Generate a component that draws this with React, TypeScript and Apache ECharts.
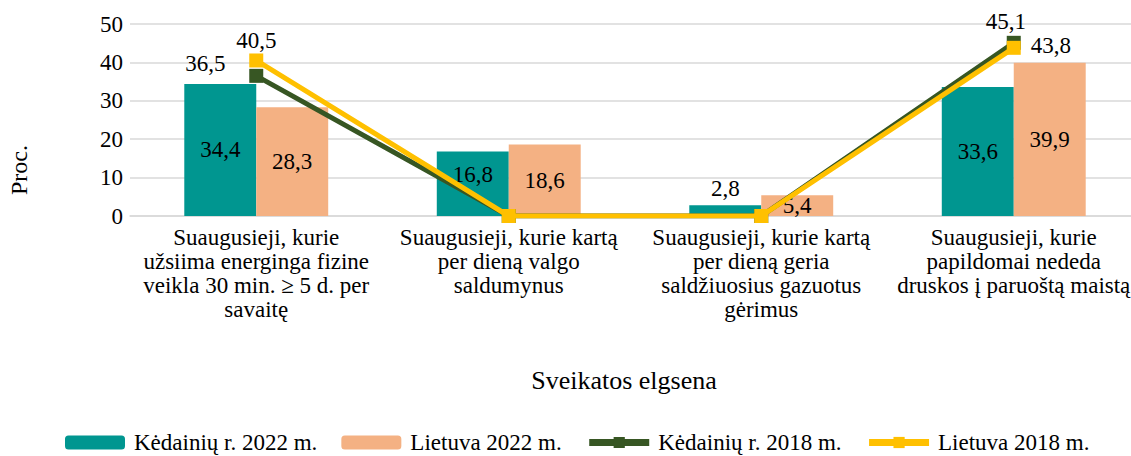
import React, { useEffect, useRef } from "react";
import * as echarts from "echarts";

const categories = [
  "Suaugusieji, kurie\nužsiima energinga fizine\nveikla 30 min. ≥ 5 d. per\nsavaitę",
  "Suaugusieji, kurie kartą\nper dieną valgo\nsaldumynus",
  "Suaugusieji, kurie kartą\nper dieną geria\nsaldžiuosius gazuotus\ngėrimus",
  "Suaugusieji, kurie\npapildomai nededa\ndruskos į paruoštą maistą",
];
const kedainiai2022 = [34.4, 16.8, 2.8, 33.6];
const lietuva2022 = [28.3, 18.6, 5.4, 39.9];
const kedainiai2018 = [36.5, 0, 0, 45.1];
const lietuva2018 = [40.5, 0, 0, 43.8];
const seriesNames = ["Kėdainių r. 2022 m.", "Lietuva 2022 m.", "Kėdainių r. 2018 m.", "Lietuva 2018 m."];
const yTicks = { min: 0, max: 50, interval: 10 };

const FONT = "Liberation Serif";
const fmt = (v: number) => String(v).replace(".", ",");

export default function App() {
  const ref = useRef<HTMLDivElement>(null);
  useEffect(() => {
    if (!ref.current) return;
    const chart = echarts.init(ref.current, null, { renderer: "svg" });
    const labelBase = { fontFamily: FONT, fontSize: 23, color: "#000" };
    const barData = (vals: number[], tops: number[], offsets: Record<number, number[]>) =>
      vals.map((v, i) => ({
        value: v,
        label: {
          show: true,
          position: tops.includes(i) ? "top" : "inside",
          offset: offsets[i] || [0, 0],
          formatter: () => fmt(v),
          ...labelBase,
        },
      }));
    const lineData = (vals: number[], labels: Record<number, any>) =>
      vals.map((v, i) => ({
        value: v,
        label: labels[i]
          ? { show: true, formatter: () => fmt(v), ...labelBase, ...labels[i] }
          : { show: false },
      }));
    chart.setOption({
      animation: false,
      textStyle: { fontFamily: FONT },
      grid: { left: 130, right: 0, top: 24, bottom: 240, containLabel: false },
      legend: {
        left: 60,
        top: 426,
        itemWidth: 60,
        itemHeight: 14,
        itemGap: 24,
        textStyle: { fontFamily: FONT, fontSize: 23, color: "#000", padding: [0, 0, 0, 4] },
        data: [
          { name: seriesNames[0] },
          { name: seriesNames[1] },
          { name: seriesNames[2], lineStyle: { width: 7 } },
          { name: seriesNames[3], lineStyle: { width: 7 } },
        ],
      },
      graphic: [
        {
          type: "text",
          x: 19,
          y: 170,
          rotation: Math.PI / 2,
          style: {
            text: "Proc.",
            fontFamily: FONT,
            fontSize: 24,
            fill: "#000",
            align: "center",
            verticalAlign: "middle",
          },
        },
      ],
      xAxis: {
        type: "category",
        data: categories,
        axisTick: { show: false },
        axisLine: { lineStyle: { color: "#d9d9d9", width: 1.5 } },
        axisLabel: {
          interval: 0,
          margin: 9,
          fontFamily: FONT,
          fontSize: 23,
          lineHeight: 24,
          color: "#000",
          align: "center",
        },
        name: "Sveikatos elgsena",
        nameLocation: "middle",
        nameGap: 151,
        nameTextStyle: { fontFamily: FONT, fontSize: 26, color: "#000", padding: [0, 22, 0, 0] },
      },
      yAxis: {
        type: "value",
        min: yTicks.min,
        max: yTicks.max,
        interval: yTicks.interval,
        axisLine: { show: false },
        axisTick: { show: false },
        axisLabel: { fontFamily: FONT, fontSize: 23, color: "#000", margin: 7 },
        splitLine: { lineStyle: { color: "#d9d9d9", width: 1.5 } },
      },
      series: [
        {
          name: seriesNames[0],
          type: "bar",
          barGap: "0%",
          barCategoryGap: "43%",
          itemStyle: { color: "#009690" },
          data: barData(kedainiai2022, [2], { 1: [0, -9] }),
          z: 2,
        },
        {
          name: seriesNames[1],
          type: "bar",
          itemStyle: { color: "#F4B183" },
          data: barData(lietuva2022, [], {}),
          z: 2,
        },
        {
          name: seriesNames[2],
          type: "line",
          symbol: "rect",
          symbolSize: 14,
          lineStyle: { color: "#375623", width: 5 },
          itemStyle: { color: "#375623" },
          data: lineData(kedainiai2018, {
            0: { position: "top", offset: [-51, 11] },
            3: { position: "top", offset: [-8, 2] },
          }),
          z: 3,
        },
        {
          name: seriesNames[3],
          type: "line",
          symbol: "rect",
          symbolSize: 14,
          lineStyle: { color: "#FFC000", width: 5 },
          itemStyle: { color: "#FFC000" },
          data: lineData(lietuva2018, {
            0: { position: "top", offset: [0, 4] },
            3: { position: "right", offset: [5, -2] },
          }),
          z: 4,
        },
      ],
    });
    return () => chart.dispose();
  }, []);
  return (
    <div
      style={{
        position: "fixed",
        left: 0,
        top: 0,
        width: 1131,
        height: 456,
        overflow: "hidden",
        background: "#fff",
      }}
    >
      <div ref={ref} style={{ width: 1140, height: 456 }} />
    </div>
  );
}
